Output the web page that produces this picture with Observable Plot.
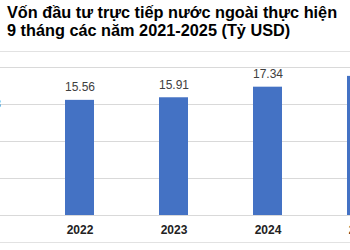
<!DOCTYPE html>
<html>
<head>
<meta charset="utf-8">
<script src="https://cdn.jsdelivr.net/npm/d3@7"></script>
<script src="https://cdn.jsdelivr.net/npm/@observablehq/plot@0.6"></script>
<style>
  html, body { margin: 0; padding: 0; background: #fff; width: 350px; height: 250px; overflow: hidden; }
  #title { font-family: "Liberation Sans", Arial, sans-serif; font-weight: bold; font-size: 16.3px; line-height: 18px; color: #000; padding: 3px 0 0 7px; height: 48px; box-sizing: content-box; white-space: nowrap; }
  #chart { border-top: 1px solid #e2e2e2; border-bottom: 1px solid #e2e2e2; width: 350px; height: 190px; }
  #chart svg { display: block; }
</style>
</head>
<body>
<div id="title">Vốn đầu tư trực tiếp nước ngoài thực hiện<br>9 tháng các năm 2021-2025 (Tỷ USD)</div>
<div id="chart"></div>
<script>
const years = ["2021", "2022", "2023", "2024", "2025"];
const values = [13.28, 15.56, 15.91, 17.34, 18.8];
const labels = ["13.28", "15.56", "15.91", "17.34", "18.8"];
const yTicks = [0, 5, 10, 15, 20];

const data = years.map((y, i) => ({year: y, value: values[i], label: labels[i]}));

const chart = Plot.plot({
  width: 350,
  height: 190,
  marginTop: 15,
  marginBottom: 27,
  marginLeft: 0,
  marginRight: 0,
  style: {fontFamily: "Liberation Sans, Arial, sans-serif", background: "#fff"},
  x: {domain: years, range: [-61.5, 408.5], paddingInner: 0.69, paddingOuter: 0.345, axis: null, label: null},
  y: {domain: [0, 20], axis: null, label: null},
  marks: [
    Plot.gridY(yTicks, {stroke: "#d9d9d9", strokeOpacity: 1, strokeWidth: 1}),
    Plot.barY(data, {x: "year", y: "value", fill: "#4472c4"}),
    Plot.text(data, {x: "year", y: "value", text: "label", dy: -9, lineAnchor: "bottom", fontSize: 12, fill: "#404040"}),
    Plot.axisX(years, {tickSize: 0, tickPadding: 10, fontSize: 12, fontWeight: "bold", fill: "#222", label: null})
  ]
});
document.getElementById("chart").appendChild(chart);
</script>
</body>
</html>
